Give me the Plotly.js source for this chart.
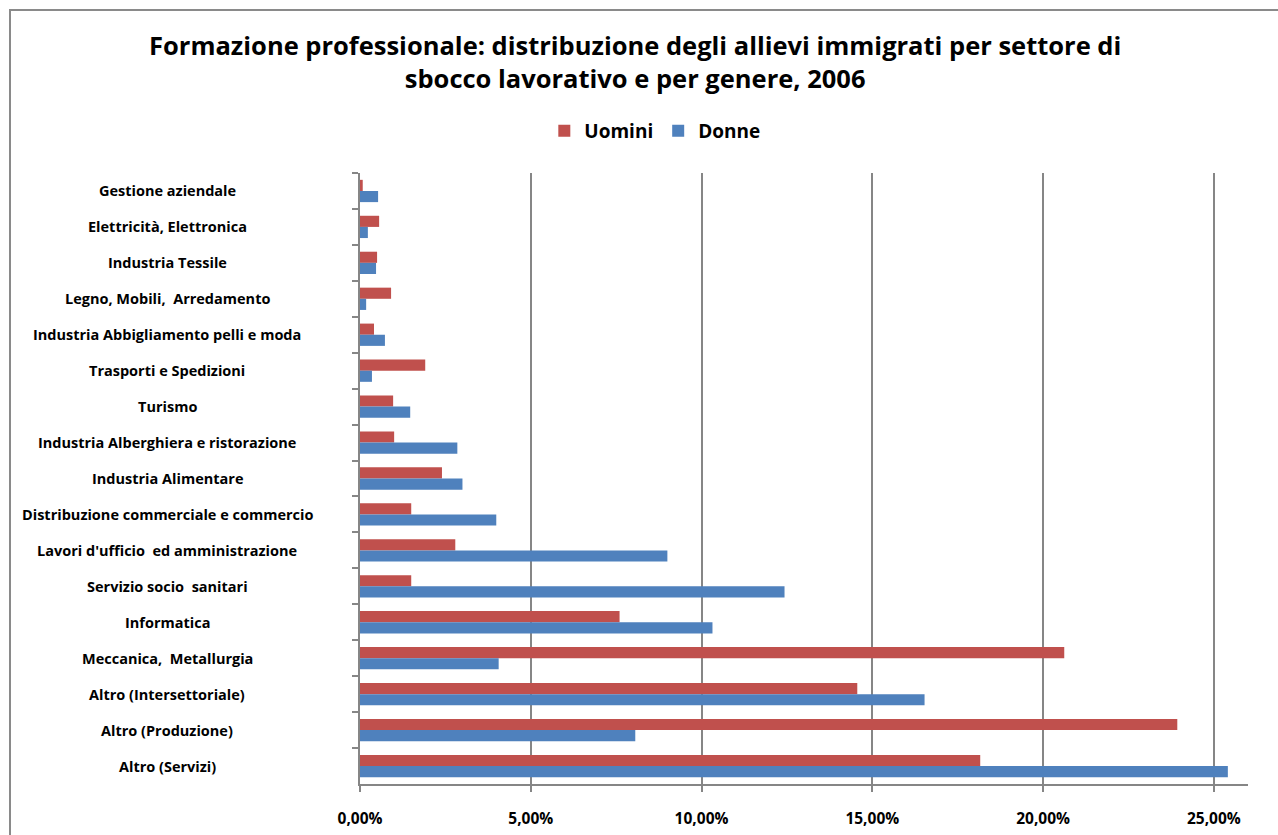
<!DOCTYPE html>
<html>
<head>
<meta charset="utf-8">
<script src="https://cdn.plot.ly/plotly-3.0.1.min.js"></script>
<style>
  html, body { margin: 0; padding: 0; background: #ffffff; overflow: hidden; }
  #chart { position: absolute; left: 0; top: 0; width: 1278px; height: 835px; }
  #frame { position: absolute; left: 9px; top: 9px; width: 1400px; height: 900px;
           border: 2px solid #8a8a8a; box-sizing: border-box; pointer-events: none; }
</style>
</head>
<body>
<div id="chart"></div>
<div id="frame"></div>
<script>
const categories = [
  "Gestione aziendale",
  "Elettricità, Elettronica",
  "Industria Tessile",
  "Legno, Mobili,  Arredamento",
  "Industria Abbigliamento pelli e moda",
  "Trasporti e Spedizioni",
  "Turismo",
  "Industria Alberghiera e ristorazione",
  "Industria Alimentare",
  "Distribuzione commerciale e commercio",
  "Lavori d'ufficio  ed amministrazione",
  "Servizio socio  sanitari",
  "Informatica",
  "Meccanica,  Metallurgia",
  "Altro (Intersettoriale)",
  "Altro (Produzione)",
  "Altro (Servizi)"
];
const uomini = [0.0008, 0.0056, 0.0050, 0.0091, 0.0041, 0.0191, 0.0097, 0.0100, 0.0240, 0.0150, 0.0279, 0.0150, 0.0760, 0.2062, 0.1456, 0.2393, 0.1816];
const donne  = [0.0053, 0.0023, 0.0047, 0.0018, 0.0073, 0.0035, 0.0147, 0.0285, 0.0300, 0.0399, 0.0900, 0.1243, 0.1032, 0.0406, 0.1653, 0.0806, 0.2541];
const xTicks = [0, 0.05, 0.10, 0.15, 0.20, 0.25];

const font = "'Open Sans', 'DejaVu Sans', sans-serif";

const traces = [
  { type: "bar", orientation: "h", name: "Uomini", y: categories, x: uomini,
    marker: { color: "#C0504D" }, hoverinfo: "x+y" },
  { type: "bar", orientation: "h", name: "Donne", y: categories, x: donne,
    marker: { color: "#4F81BD" }, hoverinfo: "x+y" }
];

const annotations = categories.map(c => ({
  text: "<b>" + c + "</b>", xref: "paper", yref: "y", x: -0.217, y: c,
  xanchor: "center", yanchor: "middle", showarrow: false,
  font: { family: font, size: 14.5, color: "#000" }
}));

const layout = {
  width: 1278, height: 835,
  paper_bgcolor: "rgba(0,0,0,0)", plot_bgcolor: "rgba(0,0,0,0)",
  margin: { l: 360, r: 30, t: 173, b: 51 },
  separators: ",.",
  barmode: "group", bargap: 0.38, bargroupgap: 0,
  title: {
    text: "<b>Formazione professionale: distribuzione degli allievi immigrati per settore di<br>sbocco lavorativo e per genere, 2006</b>",
    font: { family: font, size: 25.5, color: "#000" },
    x: 0.497, xanchor: "center", y: 0.934, yanchor: "middle", yref: "container"
  },
  showlegend: true,
  legend: {
    orientation: "h", x: 0.332, xanchor: "center", y: 1.069, yanchor: "middle",
    font: { family: font, size: 19, color: "#000", weight: "bold" }, itemwidth: 30,
    bgcolor: "rgba(0,0,0,0)"
  },
  xaxis: {
    range: [0, 0.26], tickvals: xTicks, tickformat: ".2%",
    showgrid: true, gridcolor: "#868686", gridwidth: 2,
    showline: true, linecolor: "#868686", linewidth: 2,
    ticks: "outside", ticklen: 6, tickwidth: 2, tickcolor: "#868686",
    tickfont: { family: font, size: 15.5, color: "#000", weight: "bold" },
    ticklabelstandoff: 13, zeroline: false, fixedrange: true
  },
  yaxis: {
    type: "category", autorange: "reversed",
    showticklabels: false, showgrid: false,
    showline: true, linecolor: "#868686", linewidth: 2,
    ticks: "outside", tickson: "boundaries", ticklen: 6, tickwidth: 2, tickcolor: "#868686",
    fixedrange: true
  },
  annotations: annotations
};

Plotly.newPlot("chart", traces, layout, { displayModeBar: false, staticPlot: true });
</script>
</body>
</html>
